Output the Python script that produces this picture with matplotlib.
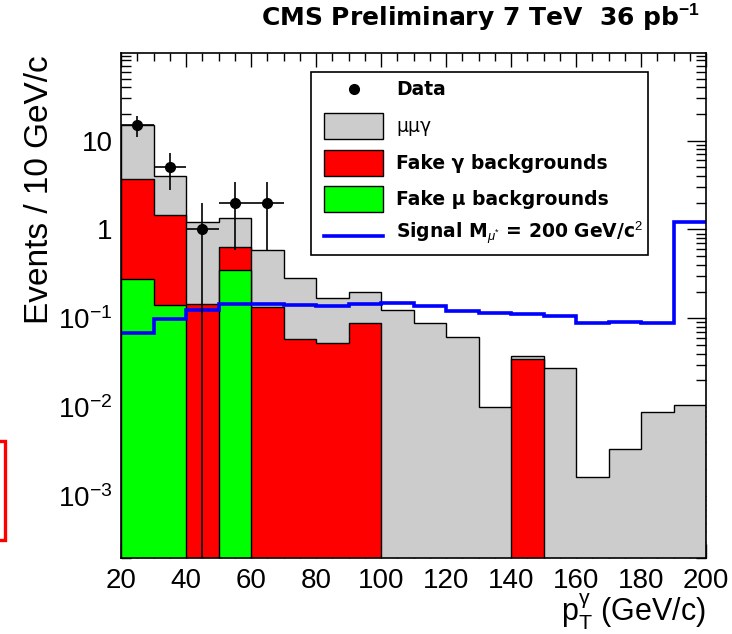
# CMS-style stacked pT(gamma) distribution, log scale
import numpy as np
import matplotlib
matplotlib.use("Agg")
import matplotlib.pyplot as plt
from matplotlib.patches import Rectangle
from matplotlib.lines import Line2D
from matplotlib.ticker import FixedLocator, LogLocator, NullFormatter, MultipleLocator

plt.rcParams['font.family'] = ['Liberation Sans', 'DejaVu Sans']
plt.rcParams['mathtext.fontset'] = 'custom'
plt.rcParams['mathtext.rm'] = 'Liberation Sans'
plt.rcParams['mathtext.it'] = 'Liberation Sans:italic'
plt.rcParams['mathtext.bf'] = 'Liberation Sans:bold'

# binning (GeV/c)
bin_edges = np.arange(20, 201, 10)

# stacked levels (events / 10 GeV/c)
stack_mumugamma = [15.0, 4.0, 1.22, 1.36, 0.59, 0.287, 0.169, 0.196, 0.125,
                   0.089, 0.0623, 0.0099, 0.0381, 0.0279, 0.00162, 0.00335,
                   0.00887, 0.0105]
stack_fake_gamma = [3.68, 1.46, 0.143, 0.634, 0.133, 0.0577, 0.053, 0.0888, 0,
                    0, 0, 0, 0.0344, 0, 0, 0, 0, 0]
fake_mu = [0.277, 0.14, 0, 0.352, 0, 0, 0, 0, 0, 0, 0, 0, 0, 0, 0, 0, 0, 0]
signal_200 = [0.0686, 0.0984, 0.125, 0.144, 0.144, 0.14, 0.139, 0.145, 0.149,
              0.136, 0.121, 0.115, 0.111, 0.107, 0.0888, 0.0916, 0.0888, 1.2]

data_x = [25, 35, 45, 55, 65]
data_n = [15, 5, 1, 2, 2]

W, H = 732, 634
fig = plt.figure(figsize=(W / 100, H / 100), dpi=100)


def fx(px):
    return px / W


def fy(py):
    return 1 - py / H


ax = fig.add_axes([fx(121), fy(558), fx(706) - fx(121), fy(53) - fy(558)])
ax.set_yscale('log')

floor = 1e-7


def draw_layer(vals, color):
    v = np.asarray(vals, dtype=float)
    v = np.where(v > 0, v, floor)
    ax.stairs(v, bin_edges, baseline=floor, fill=True, facecolor=color,
              edgecolor='black', linewidth=1.0, zorder=2)


draw_layer(stack_mumugamma, '#cccccc')
draw_layer(stack_fake_gamma, '#ff0000')
draw_layer(fake_mu, '#00ff00')

ax.stairs(signal_200, bin_edges, baseline=None, color='#0000ff',
          linewidth=2.6, zorder=4)

n = np.asarray(data_n, dtype=float)
err = np.sqrt(n)
err_lo = np.minimum(err, n - floor)
ax.errorbar(data_x, n, yerr=[err_lo, err], xerr=5, fmt='o', color='black',
            ms=7, elinewidth=1.2, capsize=0, zorder=5)

ax.set_xlim(20, 200)
ax.set_ylim(2e-4, 97)

ax.xaxis.set_major_locator(MultipleLocator(20))
ax.xaxis.set_minor_locator(MultipleLocator(5))
ax.yaxis.set_major_locator(FixedLocator([1e-3, 1e-2, 1e-1, 1, 10]))
ax.set_yticklabels([r'$10^{-3}$', r'$10^{-2}$', r'$10^{-1}$', '1', '10'])
ax.yaxis.set_minor_locator(LogLocator(base=10, subs=np.arange(2, 10), numticks=20))
ax.yaxis.set_minor_formatter(NullFormatter())

ax.tick_params(which='both', direction='in', top=True, right=True,
               labelsize=20, width=1.0, zorder=6)
ax.tick_params(axis='x', which='major', length=10, pad=7)
ax.tick_params(axis='x', which='minor', length=5.5)
ax.tick_params(axis='y', which='major', length=13.5, pad=6)
ax.tick_params(axis='y', which='minor', length=7)
for s in ax.spines.values():
    s.set_linewidth(1.2)
    s.set_zorder(6)

# titles and axis labels
fig.text(fx(700), fy(26), r'CMS Preliminary 7 TeV  36 pb$^{\mathbf{-1}}$',
         ha='right', va='baseline', fontsize=18, fontweight='bold',
         family='DejaVu Sans')
fig.text(fx(40), fy(190), 'Events / 10 GeV/c', rotation=90, ha='center',
         va='center', fontsize=24)
fig.text(fx(706), fy(622), r'p$_{\mathrm{T}}^{\mathrm{γ}}$ (GeV/c)',
         ha='right', va='baseline', fontsize=22)

# legend box drawn by hand
fig.patches.append(Rectangle((fx(311), fy(255)), fx(648) - fx(311), fy(71.7) - fy(255),
                             transform=fig.transFigure, facecolor='white',
                             edgecolor='black', linewidth=1.2, zorder=10))
rows_y = [89.3, 126, 163.3, 199.3, 233.3]
labels = ['Data', 'μμγ', 'Fake γ backgrounds', 'Fake μ backgrounds',
          r'Signal M$_{\mu^{*}}$ = 200 GeV/c$^{2}$']
swatch = [None, '#cccccc', '#ff0000', '#00ff00', None]
for i, (yy, lab, col) in enumerate(zip(rows_y, labels, swatch)):
    if col is not None:
        fig.patches.append(Rectangle((fx(324), fy(yy + 13)), fx(383) - fx(324), fy(yy - 13) - fy(yy + 13),
                                     transform=fig.transFigure, facecolor=col,
                                     edgecolor='black', linewidth=1.0, zorder=11))
    weight = 'normal' if i == 1 else 'bold'
    fig.text(fx(396), fy(yy), lab, ha='left', va='center', fontsize=13.5,
             fontweight=weight, family='DejaVu Sans', zorder=12)
fig.lines.append(Line2D([fx(354)], [fy(89.3)], marker='o', ms=7, color='black',
                        transform=fig.transFigure, zorder=12))
fig.lines.append(Line2D([fx(324), fx(383)], [fy(236), fy(236)], color='#0000ff',
                        linewidth=2.6, transform=fig.transFigure, zorder=12))

# red frame fragment at left edge
fig.patches.append(Rectangle((fx(-20), fy(540)), fx(5.5) - fx(-20), fy(441) - fy(540),
                             transform=fig.transFigure, facecolor='none',
                             edgecolor='#ff0000', linewidth=2.4, zorder=10))

fig.savefig('out.png', dpi=100)
